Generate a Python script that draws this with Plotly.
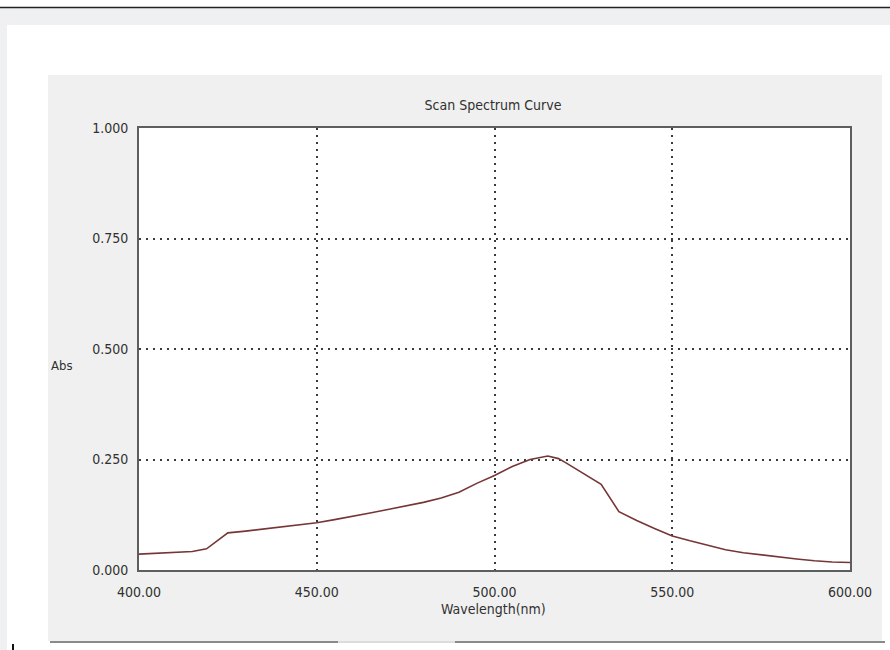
import plotly.graph_objects as go

# Data
wavelength = [400, 405, 410, 415, 419, 421, 424, 425, 430, 435, 440, 445, 450, 455,
              460, 465, 470, 475, 480, 485, 490, 495, 500, 505, 510, 515, 518, 520,
              525, 530, 535, 540, 545, 550, 555, 560, 565, 570, 575, 580, 585, 590,
              595, 600]
absorbance = [0.036, 0.038, 0.039, 0.042, 0.048, 0.060, 0.079, 0.084, 0.088, 0.093,
              0.098, 0.103, 0.107, 0.114, 0.121, 0.129, 0.137, 0.145, 0.153, 0.163,
              0.176, 0.196, 0.214, 0.234, 0.250, 0.258, 0.252, 0.243, 0.219, 0.194,
              0.132, 0.112, 0.094, 0.077, 0.066, 0.056, 0.046, 0.039, 0.034, 0.029,
              0.025, 0.021, 0.018, 0.017]
x_ticks = [400, 450, 500, 550, 600]
y_ticks = [0.0, 0.25, 0.5, 0.75, 1.0]

FONT = "DejaVu Sans Condensed, Liberation Sans Narrow, Liberation Sans, sans-serif"
FS = 14
TXT = "#303030"
W, H = 890, 650
L, R, T, B = 139, 850, 128, 570

fig = go.Figure()
fig.add_trace(go.Scatter(
    x=wavelength, y=absorbance, mode="lines",
    line=dict(color="#763636", width=1.6),
    hoverinfo="skip", showlegend=False,
))

def px(x0, y0, x1, y1, **kw):
    return dict(type="rect", xref="paper", yref="paper",
                x0=(x0 - L) / (R - L), x1=(x1 - L) / (R - L),
                y0=(B - y1) / (B - T), y1=(B - y0) / (B - T), layer="below", **kw)

def pline(x0, y0, x1, y1, color, width):
    return dict(type="line", xref="paper", yref="paper",
                x0=(x0 - L) / (R - L), x1=(x1 - L) / (R - L),
                y0=(B - y0) / (B - T), y1=(B - y1) / (B - T),
                line=dict(color=color, width=width), layer="below")

shapes = [
    px(0, 8, W, H, fillcolor="#eff0f2", line=dict(width=0)),
    px(7, 25, W, H, fillcolor="#ffffff", line=dict(width=0)),
    px(48, 75, 882, 641, fillcolor="#f0f0f0", line=dict(width=0)),
    px(L, T, R, B, fillcolor="#ffffff", line=dict(width=0)),
    pline(0, 7.5, W, 7.5, "#222222", 1.5),
    pline(50, 642, 338, 642, "#8a8a8a", 2),
    pline(338, 642, 455, 642, "#dcdcdc", 2),
    pline(455, 642, 885, 642, "#8a8a8a", 2),
    pline(13, 644, 13, 650, "#111111", 2),
]

GRID = dict(showgrid=True, gridcolor="#3a3a3a", griddash="2px,5px", gridwidth=1.5)

fig.update_layout(
    width=W, height=H,
    margin=dict(l=L, r=W - R, t=T, b=H - B, pad=0),
    paper_bgcolor="#ffffff", plot_bgcolor="#ffffff",
    font=dict(family=FONT, size=FS, color=TXT),
    shapes=shapes,
    title=dict(text="Scan Spectrum Curve", x=493 / W, xanchor="center",
               y=1 - 105 / H, yanchor="middle", yref="container",
               font=dict(family=FONT, size=FS, color=TXT)),
    xaxis=dict(range=[400, 600], tickvals=x_ticks, tickformat=".2f", **GRID,
               showline=True, linecolor="#5e5e5e", linewidth=2, mirror=True,
               ticks="", ticklabelstandoff=8, zeroline=False,
               tickfont=dict(family=FONT, size=FS, color=TXT)),
    yaxis=dict(range=[0.0, 1.0], tickvals=y_ticks, tickformat=".3f", **GRID,
               showline=True, linecolor="#5e5e5e", linewidth=2, mirror=True,
               ticks="", ticklabelstandoff=6, zeroline=False,
               tickfont=dict(family=FONT, size=FS, color=TXT)),
    annotations=[
        dict(text="Abs", xref="paper", yref="paper",
             x=(62 - L) / (R - L), y=(B - 365) / (B - T),
             xanchor="center", yanchor="middle", showarrow=False,
             font=dict(family=FONT, size=FS - 1, color=TXT)),
        dict(text="Wavelength(nm)", xref="paper", yref="paper",
             x=(493 - L) / (R - L), y=(B - 609) / (B - T),
             xanchor="center", yanchor="middle", showarrow=False,
             font=dict(family=FONT, size=FS, color=TXT)),
    ],
)

fig.write_html("out.html", config={"displayModeBar": False},
               post_script="document.body.style.margin='0';")
